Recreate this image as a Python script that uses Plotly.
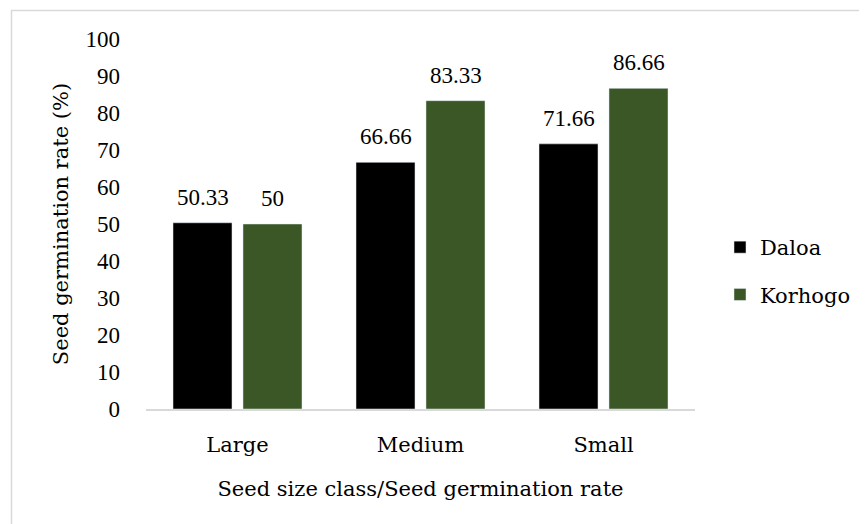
import plotly.graph_objects as go

categories = ["Large", "Medium", "Small"]
daloa = [50.33, 66.66, 71.66]
korhogo = [50, 83.33, 86.66]
daloa_labels = ["50.33", "66.66", "71.66"]
korhogo_labels = ["50", "83.33", "86.66"]
y_ticks = [0, 10, 20, 30, 40, 50, 60, 70, 80, 90, 100]

NUM_FONT = "Liberation Serif"
TXT_FONT = "DejaVu Serif"
NS = 23
TS = 21
W, H = 867, 524
OFF = 8  # page body margin
L, R, T, B = 146 - OFF, 695 - OFF, 39 - OFF, 409 - OFF

fig = go.Figure()
fig.add_trace(go.Bar(name="Daloa", x=categories, y=daloa, marker_color="#000000",
                     legendgroup="d"))
fig.add_trace(go.Bar(name="Korhogo", x=categories, y=korhogo, marker_color="#3B5726",
                     legendgroup="k"))

annotations = []
for cat, v, t in zip(categories, daloa, daloa_labels):
    annotations.append(dict(x=cat, y=v, text=t, xshift=-35, yshift=11, showarrow=False,
                            yanchor="bottom", font=dict(family=NUM_FONT, size=NS, color="#000")))
for cat, v, t in zip(categories, korhogo, korhogo_labels):
    annotations.append(dict(x=cat, y=v, text=t, xshift=35, yshift=11, showarrow=False,
                            yanchor="bottom", font=dict(family=NUM_FONT, size=NS, color="#000")))

pw, ph = R - L, B - T
def px(x): return (x - OFF - L) / pw
def py(y): return (B - (y - OFF)) / ph

fig.update_layout(
    width=W, height=H,
    margin=dict(l=L, r=W - R, t=T, b=H - B, pad=0, autoexpand=False),
    paper_bgcolor="white", plot_bgcolor="white",
    barmode="group", bargap=0.235, bargroupgap=0.157,
    font=dict(family=TXT_FONT, size=TS, color="#000"),
    showlegend=True,
    annotations=annotations,
    legend=dict(x=px(720), y=py(271), xanchor="left", yanchor="middle",
                font=dict(family=TXT_FONT, size=TS), tracegroupgap=17, itemwidth=30,
                bgcolor="rgba(0,0,0,0)"),
    xaxis=dict(showline=True, linecolor="#D9D9D9", linewidth=1.5, ticks="",
               ticklabelstandoff=16,
               title=dict(text="Seed size class/Seed germination rate", standoff=25,
                          font=dict(family=TXT_FONT, size=TS)),
               tickfont=dict(family=TXT_FONT, size=TS)),
    yaxis=dict(range=[0, 100], tickvals=y_ticks, showgrid=False, zeroline=False,
               showline=False, ticks="", ticklabelstandoff=25,
               title=dict(text="Seed germination rate (%)", standoff=11,
                          font=dict(family=TXT_FONT, size=TS)),
               tickfont=dict(family=NUM_FONT, size=NS)),
    shapes=[dict(type="rect", xref="paper", yref="paper",
                 x0=px(11.5), x1=px(900), y0=py(560), y1=py(10.5),
                 line=dict(color="#D9D9D9", width=1.5), fillcolor="rgba(0,0,0,0)",
                 layer="below")],
)

fig.write_html("out.html")
